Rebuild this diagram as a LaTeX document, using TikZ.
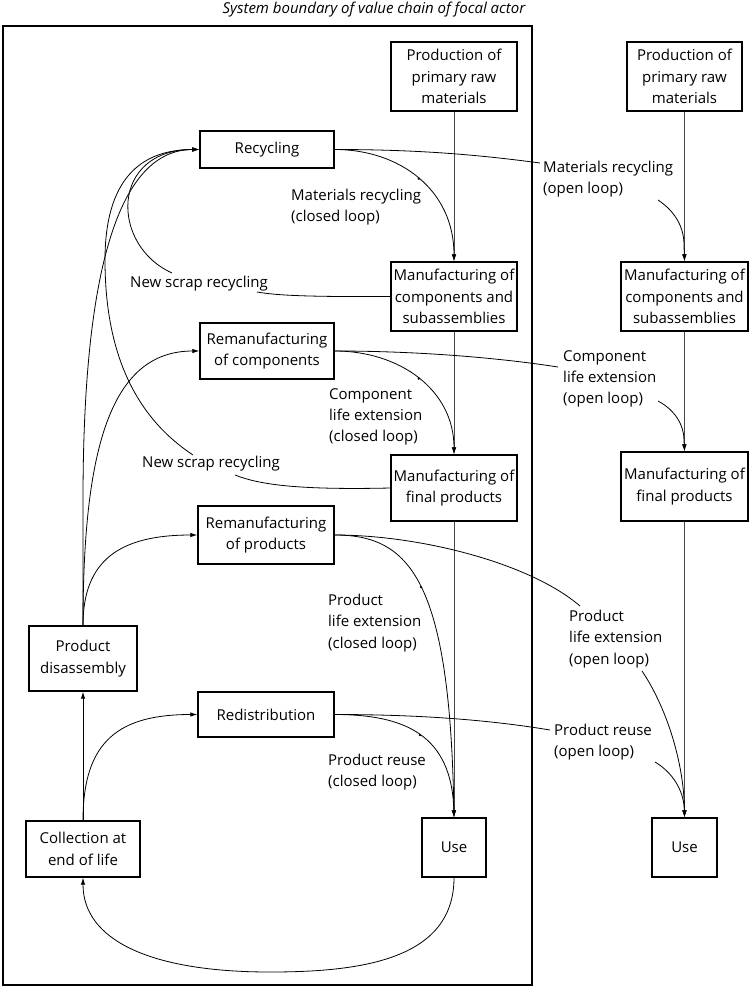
\documentclass[tikz,border=0pt]{standalone}
\usepackage{fontspec}
\setmainfont{Open Sans}
\usetikzlibrary{arrows.meta}
\begin{document}
\begin{tikzpicture}[x=1pt,y=-1pt,
  font=\fontsize{15}{21.3}\selectfont,
  box/.style={draw, line width=1.4pt, align=center, inner sep=0pt},
  lbl/.style={anchor=north west, align=left, inner sep=0pt},
  conn/.style={line width=0.8pt},
  arr/.style={conn, -{Latex[length=7pt,width=4.5pt]}},
  vline/.style={arr, draw=black!72},
  dotmark/.style={circle, fill, inner sep=0pt, minimum size=2.6pt}
]
\useasboundingbox (0,0) rectangle (749,988);

% title and boundary
\node[font=\itshape\fontsize{15}{18}\selectfont] (title) at (374,10) {System boundary of value chain of focal actor};
\draw[line width=1.6pt] (3,26) rectangle (532,985);

% boxes
\node[box, minimum width=126pt, minimum height=69pt] (prodA) at (454,76.5) {Production of\\primary raw\\materials};
\node[box, minimum width=115pt, minimum height=69pt] (prodB) at (684.5,76.5) {Production of\\primary raw\\materials};
\node[box, minimum width=126pt, minimum height=69pt] (mcompA) at (454,296.5) {Manufacturing of\\components and\\subassemblies};
\node[box, minimum width=127pt, minimum height=69pt] (mcompB) at (684.5,296.5) {Manufacturing of\\components and\\subassemblies};
\node[box, minimum width=126pt, minimum height=66pt] (mfinA) at (454,488) {Manufacturing of\\final products};
\node[box, minimum width=127pt, minimum height=69pt] (mfinB) at (684.5,486.5) {Manufacturing of\\final products};
\node[box, minimum width=134pt, minimum height=37pt] (recyc) at (267,149.5) {Recycling};
\node[box, minimum width=134pt, minimum height=56pt] (remcomp) at (267,351) {Remanufacturing\\of components};
\node[box, minimum width=136pt, minimum height=58pt] (remprod) at (266,535) {Remanufacturing\\of products};
\node[box, minimum width=108pt, minimum height=65pt] (prodis) at (83,658.5) {Product\\disassembly};
\node[box, minimum width=136pt, minimum height=45pt] (redist) at (266,714.5) {Redistribution};
\node[box, minimum width=114pt, minimum height=56pt] (collect) at (83,849) {Collection at\\end of life};
\node[box, minimum width=64pt, minimum height=59pt] (useA) at (454,847.5) {Use};
\node[box, minimum width=65pt, minimum height=59pt] (useB) at (684.5,847.5) {Use};

% labels
\node[lbl] (lmc) at (291,189) {Materials recycling\\(closed loop)};
\node[lbl] (lmo) at (543,161) {Materials recycling\\(open loop)};
\node[lbl] (lns1) at (130,276) {New scrap recycling};
\node[lbl] (lcc) at (329,388) {Component\\life extension\\(closed loop)};
\node[lbl] (lco) at (563,350) {Component\\life extension\\(open loop)};
\node[lbl] (lns2) at (142,456) {New scrap recycling};
\node[lbl] (lpc) at (328,594) {Product\\life extension\\(closed loop)};
\node[lbl] (lpo) at (569,610) {Product\\life extension\\(open loop)};
\node[lbl] (lrc) at (328,754) {Product reuse\\(closed loop)};
\node[lbl] (lro) at (554,724) {Product reuse\\(open loop)};

% free ends of the broken connectors
\coordinate (mo1) at (540,163);
\coordinate (mo2) at (658,200);
\coordinate (co1) at (558,367);
\coordinate (co2) at (658,401);
\coordinate (po1) at (580,606);
\coordinate (po2) at (642,671);
\coordinate (ro1) at (550,730);
\coordinate (ro2) at (655,762);
\coordinate (ns1a) at (257,292);
\coordinate (ns1b) at (172,273);
\coordinate (ns2a) at (235,475);
\coordinate (ns2b) at (193,455);

% main vertical chains
\draw[vline] (prodA) -- (mcompA);
\draw[vline] (mcompA) -- (mfinA);
\draw[vline] (mfinA) -- (useA);
\draw[vline] (prodB) -- (mcompB);
\draw[vline] (mcompB) -- (mfinB);
\draw[vline] (mfinB) -- (useB);

% closed loops
\draw[arr] (recyc.east) .. controls (400,149.5) and (454,190) .. (mcompA.north) node[dotmark, pos=0.5] (d1) {};
\draw[arr] (remcomp.east) .. controls (400,351) and (454,390) .. (mfinA.north) node[dotmark, pos=0.5] (d2) {};
\draw[arr] (remprod.east) .. controls (410,535) and (450,580) .. (useA.north) node[dotmark, pos=0.5] (d3) {};
\draw[arr] (redist.east) .. controls (405,714.5) and (452,735) .. (useA.north) node[dotmark, pos=0.5] (d4) {};

% open loops
\draw[conn] (recyc.east) .. controls (420,149.5) and (480,155) .. (mo1);
\draw[arr] (mo2) .. controls (676,212) and (684,228) .. (684,245) -- (mcompB.north);
\draw[conn] (remcomp.east) .. controls (420,351) and (500,358) .. (co1);
\draw[arr] (co2) .. controls (675,410) and (684,425) .. (684,440) -- (mfinB.north);
\draw[conn] (remprod.east) .. controls (420,535) and (530,563) .. (po1);
\draw[arr] (po2) .. controls (665,705) and (684,760) .. (useB.north);
\draw[conn] (redist.east) .. controls (420,714.5) and (490,720) .. (ro1);
\draw[arr] (ro2) .. controls (672,772) and (684,790) .. (useB.north);

% new scrap recycling
\draw[conn] (mcompA.west) .. controls (300,297) and (275,295) .. (ns1a);
\draw[arr] (ns1b) .. controls (110,245) and (110,149.5) .. (recyc.west);
\draw[conn] (mfinA.west) .. controls (300,490) and (260,485) .. (ns2a);
\draw[arr] (ns2b) .. controls (140,420) and (105,360) .. (105,260) .. controls (105,180) and (140,149.5) .. (recyc.west);

% from disassembly and collection
\draw[arr] (prodis.north) -- (83,500) .. controls (83,300) and (110,149.5) .. (recyc.west);
\draw[arr] (prodis.north) .. controls (83,450) and (110,351) .. (remcomp.west);
\draw[arr] (prodis.north) .. controls (83,560) and (120,535) .. (remprod.west);
\draw[arr] (collect.north) -- (prodis.south);
\draw[arr] (collect.north) .. controls (83,740) and (120,714.5) .. (redist.west);
\draw[arr] (useA.south) .. controls (454,960) and (360,972) .. (270,972) .. controls (150,972) and (83,940) .. (collect.south);
\end{tikzpicture}
\end{document}
